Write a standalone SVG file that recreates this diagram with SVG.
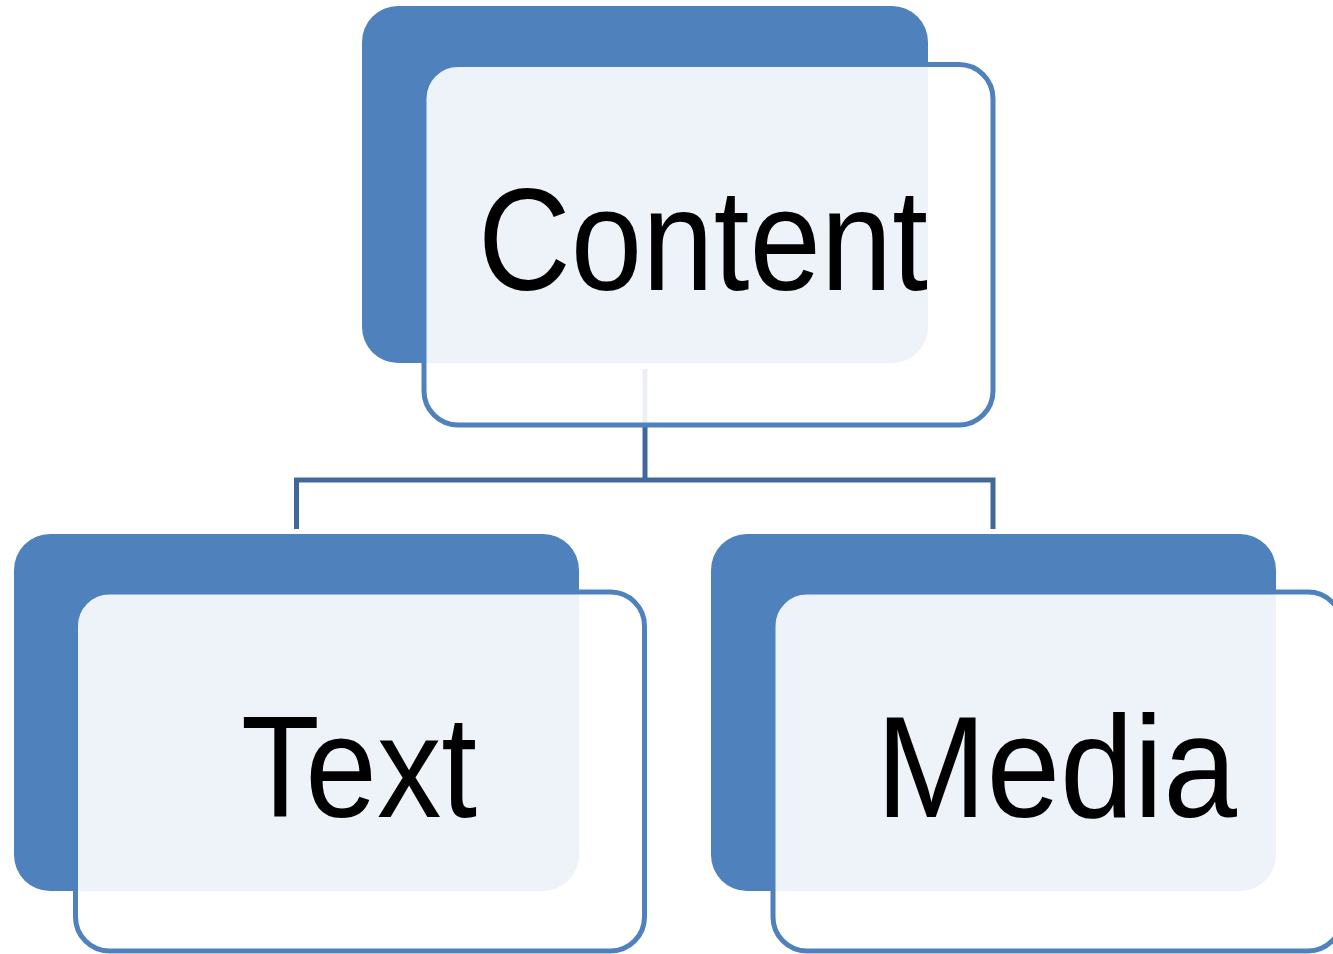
<svg xmlns="http://www.w3.org/2000/svg" width="1333" height="954" viewBox="0 0 1333 954">
<style>
.back{fill:#4F81BD;}
.front{fill:#FFFFFF;fill-opacity:0.9;stroke:#4F81BD;stroke-width:5;}
.lbl{font-family:"Liberation Sans",Arial,sans-serif;font-size:145px;fill:#000000;}
.conn{fill:none;stroke:#41689A;stroke-width:5;}
</style>
<rect width="1333" height="954" fill="#FFFFFF"/>
<g id="connectors">
<path class="conn" d="M645,369 V480"/>
<path class="conn" d="M296.5,529 V480 H993 V529"/>
</g>
<g id="node-content">
<rect class="back" x="362" y="6" width="566" height="357" rx="36" ry="36"/>
<rect class="front" x="424" y="64.5" width="569" height="360.5" rx="34" ry="34"/>
<text class="lbl" x="478" y="290" textLength="450" lengthAdjust="spacingAndGlyphs">Content</text>
</g>
<g id="node-text">
<rect class="back" x="14" y="534" width="565" height="357" rx="36" ry="36"/>
<rect class="front" x="75.5" y="592" width="569" height="359" rx="34" ry="34"/>
<text class="lbl" x="241" y="817" textLength="236" lengthAdjust="spacingAndGlyphs">Text</text>
</g>
<g id="node-media">
<rect class="back" x="711" y="534" width="565" height="357" rx="36" ry="36"/>
<rect class="front" x="773" y="592" width="569" height="359" rx="34" ry="34"/>
<text class="lbl" x="876" y="817" textLength="361" lengthAdjust="spacingAndGlyphs">Media</text>
</g>
</svg>
